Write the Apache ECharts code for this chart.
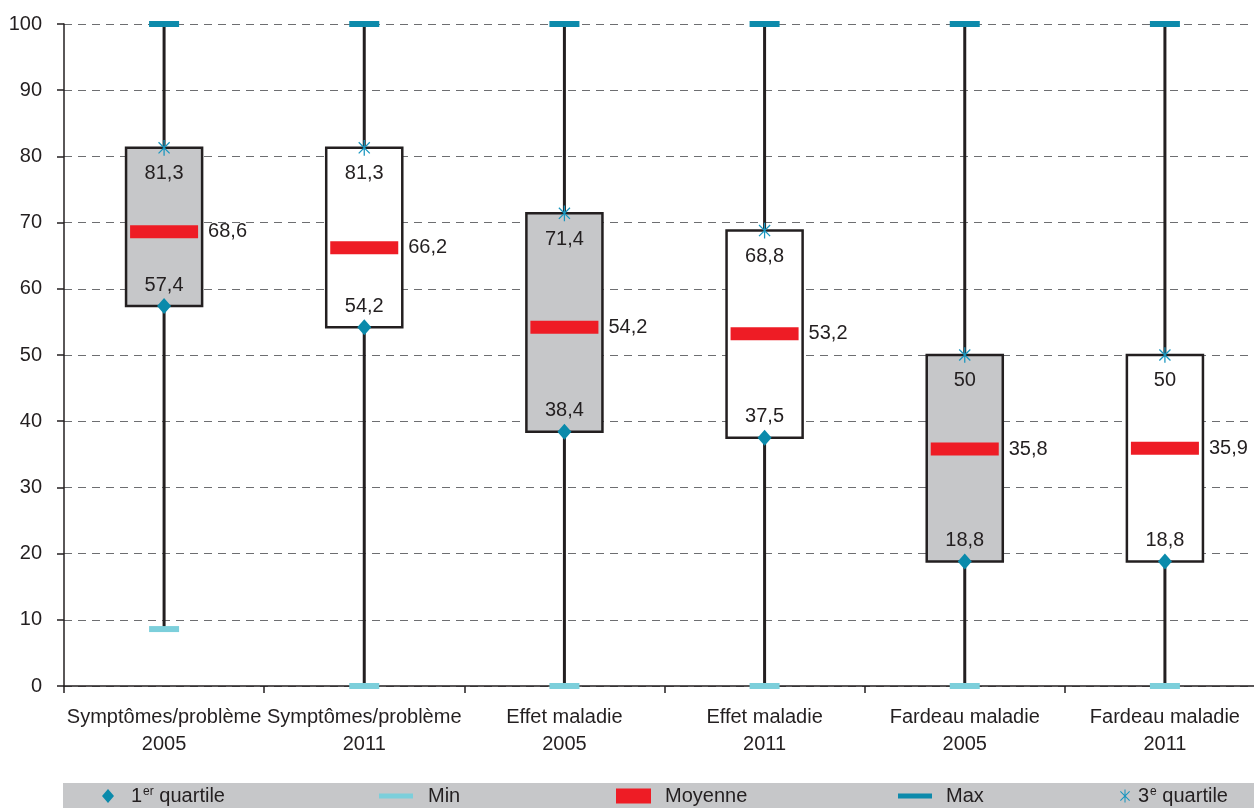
<!DOCTYPE html>
<html>
<head>
<meta charset="utf-8">
<script src="https://cdn.jsdelivr.net/npm/echarts@6/dist/echarts.min.js"></script>
<style>
html,body{margin:0;padding:0;background:#fff;}
#chart{width:1254px;height:808px;}
</style>
</head>
<body>
<div id="chart"></div>
<script>
const categories = ['Symptômes/problème\n2005','Symptômes/problème\n2011','Effet maladie\n2005','Effet maladie\n2011','Fardeau maladie\n2005','Fardeau maladie\n2011'];
const years = ['2005','2011','2005','2011','2005','2011'];
const minVals = [8.6, 0, 0, 0, 0, 0];
const q1Vals = [57.4, 54.2, 38.4, 37.5, 18.8, 18.8];
const meanVals = [68.6, 66.2, 54.2, 53.2, 35.8, 35.9];
const q3Vals = [81.3, 81.3, 71.4, 68.8, 50, 50];
const maxVals = [100, 100, 100, 100, 100, 100];
const yTicks = {min: 0, max: 100, interval: 10};

const FONT = "'Liberation Sans', Arial, sans-serif";
const FS = 20;
const TXT = '#231f20';
const fmt = v => String(v).replace('.', ',');
const ASTER = 'path://M-0.8,-10 L0.8,-10 L0.8,10 L-0.8,10 Z M-7.64,-6.5 L-6.5,-7.64 L7.64,6.5 L6.5,7.64 Z M6.5,-7.64 L7.64,-6.5 L-6.5,7.64 L-7.64,6.5 Z';

const pts = arr => arr.map((v, i) => [i, v]);
const boxData = categories.map((c, i) => [i, minVals[i], q1Vals[i], q3Vals[i], maxVals[i], years[i] === '2005' ? 1 : 0]);

const chart = echarts.init(document.getElementById('chart'));

function legendItem(name, left, w, h, icon, color, textPad) {
  return {
    show: true, left: left, top: 786, padding: 0, orient: 'horizontal',
    itemWidth: w, itemHeight: h, selectedMode: false,
    data: [{name: name, icon: icon, itemStyle: {color: color, opacity: 1}}],
    formatter: n => {
      if (n === '1er quartile') return '1{sup|er} quartile';
      if (n === '3e quartile') return '3{sup|e} quartile';
      return n;
    },
    textStyle: {
      fontFamily: FONT, fontSize: FS, color: TXT, padding: [0, 0, 0, textPad],
      rich: {sup: {fontFamily: FONT, fontSize: 12, color: TXT, padding: [0, 0, 8, 1]}}
    }
  };
}

const option = {
  backgroundColor: '#fff',
  animation: false,
  textStyle: {fontFamily: FONT},
  graphic: [{
    type: 'rect', left: 63, top: 783, z: -10,
    shape: {width: 1191, height: 30},
    style: {fill: '#c6c7c9'}
  }],
  legend: [
    legendItem('1er quartile', 102, 12, 14, 'diamond', '#0a8aab', 12),
    legendItem('Min', 379, 34, 5, 'rect', '#7ccfdb', 10),
    legendItem('Moyenne', 616, 35, 15, 'rect', '#ee1c25', 9),
    legendItem('Max', 898, 34, 5, 'rect', '#0d8aab', 9),
    legendItem('3e quartile', 1120, 10, 14, ASTER, '#1996bf', 3)
  ],
  grid: {left: 64, top: 24, width: 1201, height: 662, outerBoundsMode: 'none', containLabel: false},
  xAxis: {
    type: 'category', data: categories, boundaryGap: true,
    axisLine: {lineStyle: {color: '#231f20', width: 1.5}},
    axisTick: {show: true, alignWithLabel: false, interval: 0, length: 7, lineStyle: {color: '#231f20', width: 1.5}},
    axisLabel: {interval: 0, fontFamily: FONT, fontSize: FS, color: TXT, lineHeight: 27, margin: 18},
    splitLine: {show: false}
  },
  yAxis: {
    type: 'value', min: yTicks.min, max: yTicks.max, interval: yTicks.interval,
    axisLine: {show: true, lineStyle: {color: '#231f20', width: 1.5}},
    axisTick: {show: true, length: 7, lineStyle: {color: '#231f20', width: 1.5}},
    axisLabel: {fontFamily: FONT, fontSize: FS, color: TXT, margin: 22},
    splitLine: {show: true, lineStyle: {color: '#6d6e71', width: 1, type: [8, 6]}}
  },
  series: [
    {
      type: 'custom', name: 'box', z: 2, silent: true,
      data: boxData,
      renderItem: (params, api) => {
        const x = api.value(0);
        const pMin = api.coord([x, api.value(1)]);
        const pQ1 = api.coord([x, api.value(2)]);
        const pQ3 = api.coord([x, api.value(3)]);
        const pMax = api.coord([x, api.value(4)]);
        const bw = api.size([1, 0])[0] * 0.38;
        const filled = api.value(5) === 1;
        return {
          type: 'group',
          children: [
            {type: 'line', shape: {x1: pMin[0], y1: pMin[1], x2: pMax[0], y2: pMax[1]},
             style: {stroke: '#231f20', lineWidth: 3}},
            {type: 'rect', shape: {x: pQ3[0] - bw / 2, y: pQ3[1], width: bw, height: pQ1[1] - pQ3[1]},
             style: {fill: filled ? '#c6c7c9' : '#ffffff', stroke: '#231f20', lineWidth: 2.5}}
          ]
        };
      }
    },
    {
      type: 'scatter', name: 'Min', z: 3, data: pts(minVals),
      symbol: 'rect', symbolSize: [30, 6], itemStyle: {color: '#7ccfdb', opacity: 1}
    },
    {
      type: 'scatter', name: 'Max', z: 3, data: pts(maxVals),
      symbol: 'rect', symbolSize: [30, 6], itemStyle: {color: '#0d8aab', opacity: 1}
    },
    {
      type: 'scatter', name: 'Moyenne', z: 4, data: pts(meanVals),
      symbol: 'rect', symbolSize: [68, 13], itemStyle: {color: '#ee1c25', opacity: 1},
      label: {show: true, position: 'right', distance: 10, formatter: p => fmt(p.value[1]),
              fontFamily: FONT, fontSize: FS, color: TXT}
    },
    {
      type: 'scatter', name: '1er quartile', z: 5, data: pts(q1Vals),
      symbol: 'diamond', symbolSize: [14, 16], itemStyle: {color: '#0a8aab', opacity: 1},
      label: {show: true, position: 'top', distance: 3, formatter: p => fmt(p.value[1]),
              fontFamily: FONT, fontSize: FS, color: TXT}
    },
    {
      type: 'scatter', name: '3e quartile', z: 5, data: pts(q3Vals),
      symbol: ASTER, symbolSize: [12, 15.7], itemStyle: {color: '#1996bf', opacity: 1},
      label: {show: true, position: 'bottom', distance: 8, formatter: p => fmt(p.value[1]),
              fontFamily: FONT, fontSize: FS, color: TXT}
    }
  ]
};
chart.setOption(option);
</script>
</body>
</html>
